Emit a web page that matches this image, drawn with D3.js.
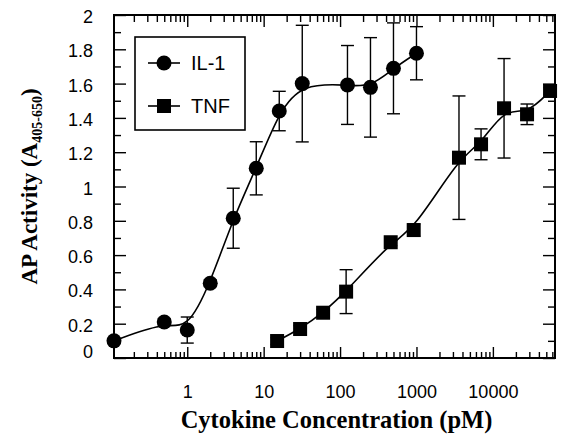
<!DOCTYPE html>
<html>
<head>
<meta charset="utf-8">
<script src="https://cdn.jsdelivr.net/npm/d3@7"></script>
<style>
  body { margin: 0; background: #fff; }
  svg { display: block; }
  .tick-label { font-family: "Liberation Sans", Arial, sans-serif; font-size: 18px; fill: #000; }
  .axis-title { font-family: "Liberation Serif", "Times New Roman", serif; font-weight: bold; font-size: 22px; fill: #000; }
</style>
</head>
<body>
<svg id="chart" width="561" height="441"></svg>
<script>
// IL-1 dose response (pM, absorbance, +/- error)
const il1Conc = [0.11, 0.5, 1, 2, 4, 8, 16, 32, 125, 250, 500, 1000];
const il1Activity = [0.10, 0.21, 0.163, 0.436, 0.815, 1.106, 1.44, 1.60, 1.592, 1.578, 1.689, 1.777];
const il1Error = [0, 0.02, 0.076, 0.02, 0.175, 0.155, 0.115, 0.34, 0.23, 0.29, 0.265, 0.155];

// TNF dose response
const tnfConc = [15, 30, 60, 120, 460, 920, 3600, 7000, 14000, 28000, 56000];
const tnfActivity = [0.099, 0.169, 0.264, 0.387, 0.675, 0.746, 1.168, 1.246, 1.456, 1.421, 1.557];
const tnfError = [0.02, 0.02, 0.02, 0.128, 0.02, 0.035, 0.36, 0.09, 0.29, 0.06, 0.02];

// axis ticks
const xMajorTicks = [1, 10, 100, 1000, 10000];
const xMinorTicks = [0.2, 0.3, 0.4, 0.5, 0.6, 0.7, 0.8, 0.9,
    2, 3, 4, 5, 6, 7, 8, 9, 20, 30, 40, 50, 60, 70, 80, 90,
    200, 300, 400, 500, 600, 700, 800, 900, 2000, 3000, 4000, 5000, 6000, 7000, 8000, 9000,
    20000, 30000, 40000, 50000, 60000];
const yMajorTicks = [0, 0.2, 0.4, 0.6, 0.8, 1, 1.2, 1.4, 1.6, 1.8, 2];
const yMinorTicks = [0.1, 0.3, 0.5, 0.7, 0.9, 1.1, 1.3, 1.5, 1.7, 1.9];

const series = [
    { name: 'IL-1', shape: 'circle', x: il1Conc, y: il1Activity, err: il1Error },
    { name: 'TNF', shape: 'square', x: tnfConc, y: tnfActivity, err: tnfError }
];

const plot = { left: 114, right: 555, top: 15, bottom: 358 };

const svg = d3.select('#chart');

const x = d3.scaleLog().domain([0.11, 65000]).range([plot.left, plot.right]);
const y = d3.scaleLinear().domain([0, 2]).range([plot.bottom, plot.top]);

// frame ticks, all pointing inward
const tickAxis = function tickAxis(axis, transform, values, size) {
    const g = svg.append('g')
        .attr('transform', transform)
        .call(axis.tickValues(values).tickSize(size).tickFormat(''));
    g.select('.domain').remove();
    g.selectAll('line').attr('stroke', '#000').attr('stroke-width', 1.4);
    return g;
};

tickAxis(d3.axisBottom(x), `translate(0,${plot.bottom})`, xMinorTicks, -6);
tickAxis(d3.axisTop(x), `translate(0,${plot.top})`, xMinorTicks, -7);
tickAxis(d3.axisTop(x), `translate(0,${plot.top})`, xMajorTicks, -12);
tickAxis(d3.axisLeft(y), `translate(${plot.left},0)`, yMinorTicks, -7);
tickAxis(d3.axisRight(y), `translate(${plot.right},0)`, yMinorTicks, -7);
tickAxis(d3.axisRight(y), `translate(${plot.right},0)`, yMajorTicks, -12);

const xAxis = svg.append('g')
    .attr('transform', `translate(0,${plot.bottom})`)
    .call(d3.axisBottom(x).tickValues(xMajorTicks).tickSize(-11).tickPadding(27)
        .tickFormat(d3.format('d')));
xAxis.select('.domain').remove();

const yAxis = svg.append('g')
    .attr('transform', `translate(${plot.left},0)`)
    .call(d3.axisLeft(y).tickValues(yMajorTicks).tickSize(-12).tickPadding(21)
        .tickFormat(d3.format('~g')));
yAxis.select('.domain').remove();

[xAxis, yAxis].forEach(g => {
    g.selectAll('line').attr('stroke', '#000').attr('stroke-width', 1.4);
    g.selectAll('text').attr('class', 'tick-label').attr('font-size', null).attr('font-family', null);
});
yAxis.selectAll('text').attr('dy', d => d === 0 ? '-0.05em' : '0.42em');

svg.append('rect')
    .attr('x', plot.left).attr('y', plot.top)
    .attr('width', plot.right - plot.left).attr('height', plot.bottom - plot.top)
    .attr('fill', 'none').attr('stroke', '#000').attr('stroke-width', 2);

// smoothed curves, error bars, then markers on top
const line = d3.line()
    .x(d => x(d.x))
    .y(d => y(d.y))
    .curve(d3.curveBasis);

const capHalf = 6.5;

series.forEach(s => {
    const points = s.x.map((v, i) => ({ x: v, y: s.y[i], err: s.err[i] }));

    svg.append('path')
        .attr('d', line(points))
        .attr('fill', 'none').attr('stroke', '#000').attr('stroke-width', 1.6);

    const bars = svg.append('g')
        .attr('stroke', '#000').attr('stroke-width', 1.4)
        .selectAll('g')
        .data(points.filter(p => p.err > 0))
        .join('g');
    bars.append('line')
        .attr('x1', p => x(p.x)).attr('x2', p => x(p.x))
        .attr('y1', p => y(p.y + p.err)).attr('y2', p => y(p.y - p.err));
    [1, -1].forEach(sign => {
        bars.append('line')
            .attr('x1', p => x(p.x) - capHalf).attr('x2', p => x(p.x) + capHalf)
            .attr('y1', p => y(p.y + sign * p.err)).attr('y2', p => y(p.y + sign * p.err));
    });

    const marks = svg.append('g').selectAll('.mark').data(points);
    if (s.shape === 'circle') {
        marks.join('circle')
            .attr('cx', p => x(p.x)).attr('cy', p => y(p.y)).attr('r', 7.5);
    } else {
        marks.join('rect')
            .attr('x', p => x(p.x) - 7).attr('y', p => y(p.y) - 7)
            .attr('width', 14).attr('height', 14);
    }
});

// legend
const legend = svg.append('g');
legend.append('rect')
    .attr('x', 135).attr('y', 37).attr('width', 110).attr('height', 93)
    .attr('fill', '#fff').attr('stroke', '#000').attr('stroke-width', 1.6);

const legendRows = legend.selectAll('.row')
    .data(series)
    .join('g')
    .attr('transform', (s, i) => `translate(0,${63 + i * 43})`);
legendRows.append('line')
    .attr('x1', 148).attr('x2', 180)
    .attr('stroke', '#000').attr('stroke-width', 1.6);
legendRows.filter(s => s.shape === 'circle').append('circle')
    .attr('cx', 164).attr('r', 7.5);
legendRows.filter(s => s.shape === 'square').append('rect')
    .attr('x', 157).attr('y', -7).attr('width', 14).attr('height', 14);
legendRows.append('text')
    .attr('class', 'tick-label')
    .attr('x', 191).attr('dy', '0.36em')
    .style('font-size', '20px')
    .text(s => s.name);

// axis titles
svg.append('text')
    .attr('class', 'axis-title')
    .attr('x', (plot.left + plot.right) / 2 + 2).attr('y', 428)
    .attr('text-anchor', 'middle')
    .style('font-size', '24.5px')
    .text('Cytokine Concentration (pM)');

const yTitle = svg.append('text')
    .attr('class', 'axis-title')
    .attr('transform', `translate(37,${(plot.top + plot.bottom) / 2}) rotate(-90)`)
    .attr('text-anchor', 'middle')
    .style('font-size', '23px');
yTitle.append('tspan').text('AP Activity (A');
yTitle.append('tspan').attr('dy', 5).style('font-size', '14px').text('405-650');
yTitle.append('tspan').attr('dy', -5).text(')');
</script>
</body>
</html>
